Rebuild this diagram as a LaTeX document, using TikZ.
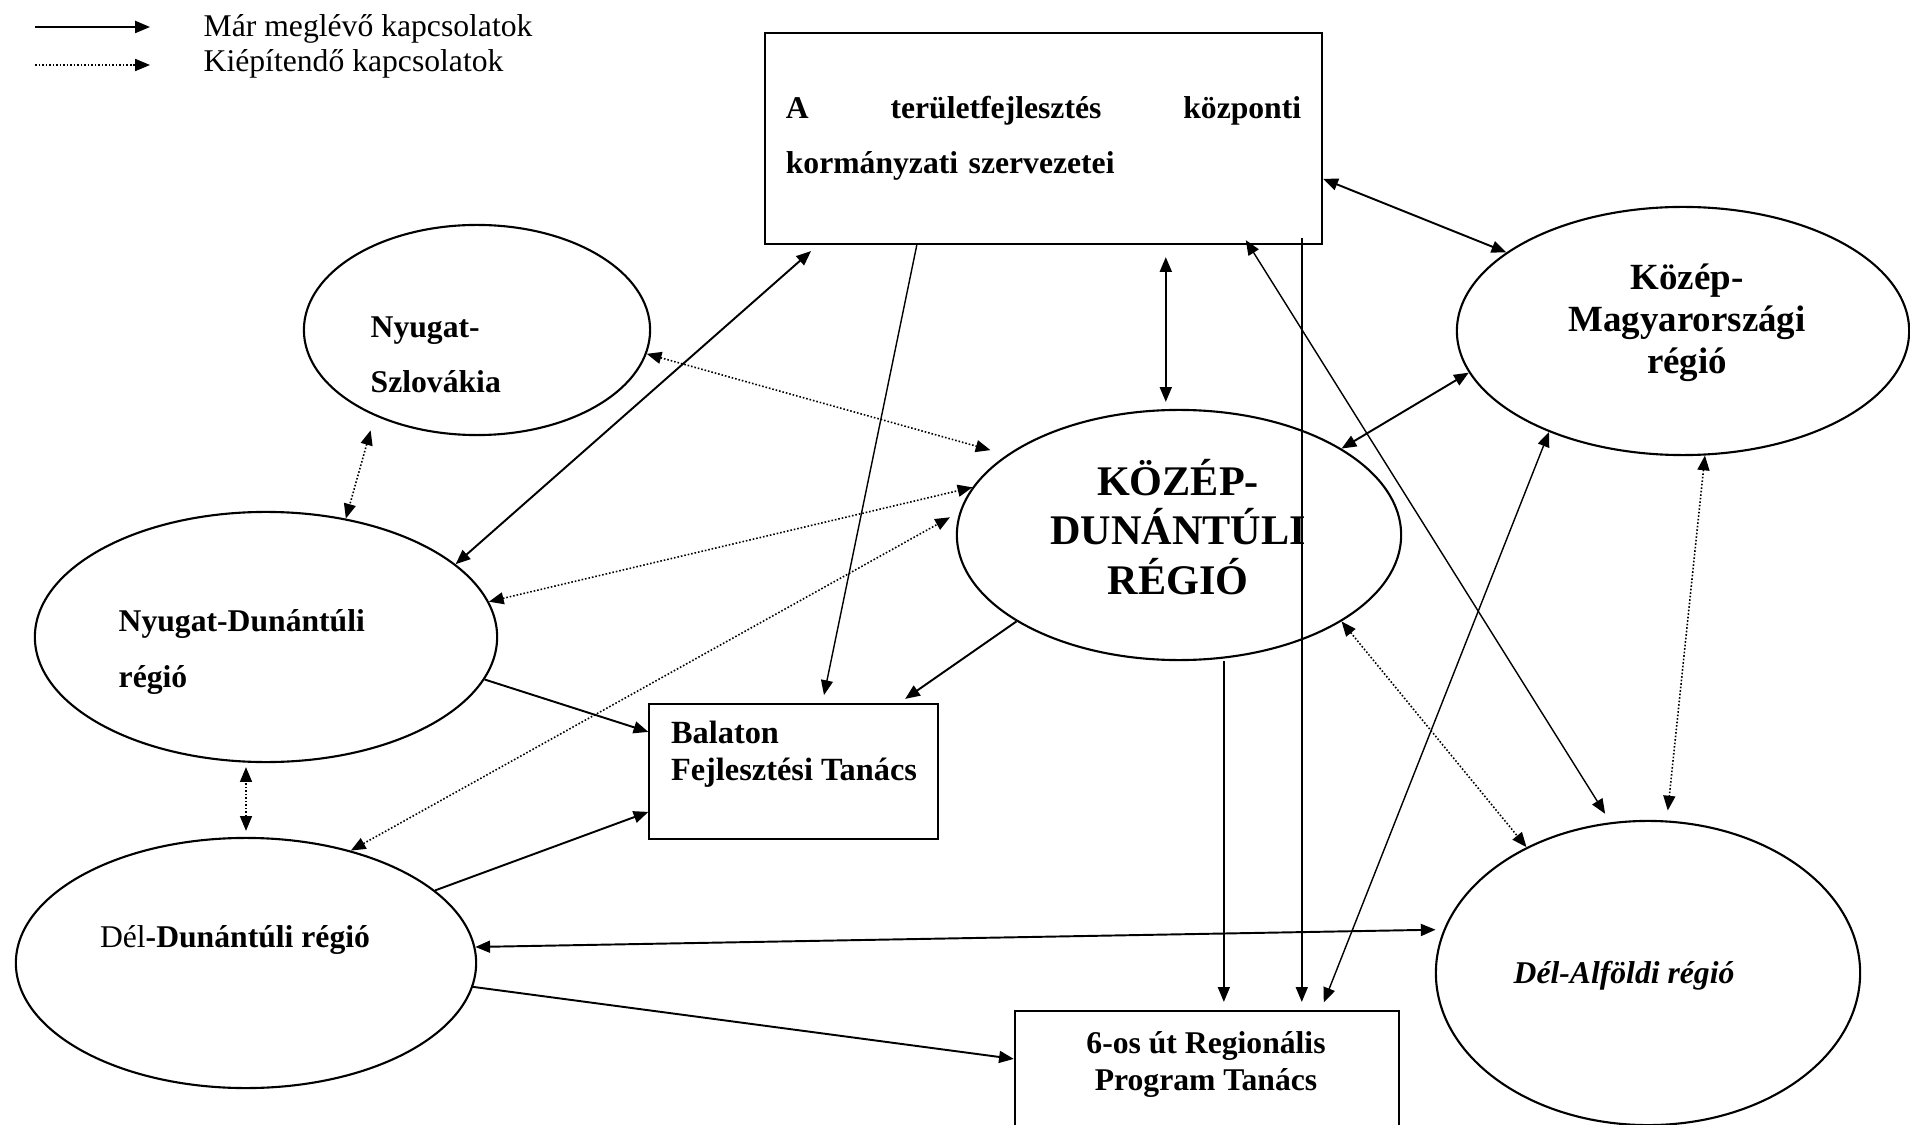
\documentclass[tikz,border=0pt]{standalone}
\usepackage{fontspec}
\setmainfont{Liberation Serif}
\usetikzlibrary{calc,shapes.geometric,arrows.meta}

\begin{document}
\begin{tikzpicture}[x=0.01cm, y=-0.01cm,
    region/.style={ellipse, draw, line width=0.6pt, inner sep=0pt},
    office/.style={rectangle, draw, line width=0.6pt, inner sep=0pt},
    txt/.style={inner sep=0pt, align=left, font=\fontsize{9}{15.6}\selectfont\bfseries},
    link/.style={line width=0.55pt},
    thinlink/.style={line width=0.4pt},
    plan/.style={line width=0.45pt, dash pattern=on 0.45pt off 0.55pt},
    >={Triangle[length=4.2pt,width=3.4pt]}]
  \useasboundingbox (0,0) rectangle (1910,1125);

  \coordinate (la1) at (35,27);
  \coordinate (la2) at (150,27);
  \coordinate (lb1) at (35,65);
  \coordinate (lb2) at (150,65);
  \node[anchor=base west, inner sep=0pt, font=\fontsize{9}{11}\selectfont] (lg1) at (203,37) {Már meglévő kapcsolatok};
  \node[anchor=base west, inner sep=0pt, font=\fontsize{9}{11}\selectfont] (lg2) at (203,72) {Kiépítendő kapcsolatok};
  \draw[link,->] (la1) -- (la2);
  \draw[plan,->] (lb1) -- (lb2);

  \node[office, minimum width=5.57cm, minimum height=2.11cm, text width=5.15cm, align=left,
        font=\fontsize{9}{15.6}\selectfont\bfseries] (kozpont) at (1043.5,138.5)
        {\noindent\makebox[5.15cm]{A\hfill területfejlesztés\hfill központi}\\kormányzati szervezetei};
  \node[region, minimum width=3.46cm, minimum height=2.1cm] (nsz) at (477,330) {};
  \node[region, minimum width=4.62cm, minimum height=2.5cm] (ndu) at (266,637) {};
  \node[region, minimum width=4.6cm, minimum height=2.5cm] (ddu) at (246,963) {};
  \node[region, minimum width=4.44cm, minimum height=2.5cm] (kdr) at (1179,535) {};
  \node[region, minimum width=4.52cm, minimum height=2.48cm] (kmr) at (1683,331) {};
  \node[region, minimum width=4.24cm, minimum height=3.04cm] (dar) at (1648,973) {};
  \node[office, minimum width=2.88cm, minimum height=1.35cm] (bft) at (793.5,771.5) {};
  \node[office, minimum width=3.84cm, minimum height=1.4cm] (rpt) at (1207,1081) {};

  \node[txt, anchor=west] (nszt) at ($(nsz.center)+(-107,25)$) {Nyugat-\\Szlovákia};
  \node[txt, anchor=west, font=\fontsize{9}{16.2}\selectfont\bfseries] (ndut) at ($(ndu.center)+(-148,15)$) {Nyugat-Dunántúli\\régió};
  \node[anchor=base, inner sep=0pt, font=\fontsize{9}{11}\selectfont] (ddut) at ($(ddu.center)+(-11,-16)$) {Dél\textbf{-Dunántúli régió}};
  \node[txt, anchor=west, font=\fontsize{9.2}{10.5}\selectfont\bfseries] (bftt) at ($(bft.west)+(22,-17)$) {Balaton\\Fejlesztési Tanács};
  \node[txt, align=center, font=\fontsize{9}{10.5}\selectfont\bfseries] (rptt) at ($(rpt.north)+(-1,55)$) {6-os út Regionális\\Program Tanács};
  \node[txt, align=center, font=\fontsize{12}{14}\selectfont\bfseries] (kdrt) at ($(kdr.center)+(-1,-8)$) {KÖZÉP-\\DUNÁNTÚLI\\RÉGIÓ};
  \node[txt, align=center, font=\fontsize{10.5}{12}\selectfont\bfseries] (kmrt) at ($(kmr.center)+(4,-8)$) {Közép-\\Magyarországi\\régió};
  \node[anchor=base, inner sep=0pt, font=\fontsize{9}{11}\selectfont\bfseries\itshape] (dart) at ($(dar.center)+(-24,10)$) {Dél-Alföldi régió};

  \coordinate (v1) at ($(kozpont.south west)+(402,0)$);
  \coordinate (v2) at ($(kozpont.south west)+(538,-7)$);
  \coordinate (v3) at ($(rpt.north west)+(210,0)$);

  \draw[thinlink,->,shorten >=0.08cm] ($(kozpont.south west)+(153,0)$) -- ($(bft.north west)+(174,0)$);
  \draw[link,<->,shorten <=0.09cm] ($(kozpont.south west)+(54,0)$) -- (ndu.21);
  \draw[link,<->,shorten <=0.12cm,shorten >=0.07cm] (v1) -- (v1 |- kdr.north);
  \draw[link,<->] ($(kozpont.north east)+(0,147)$) -- (kmr.156);
  \draw[thinlink,<->,shorten >=0.1cm] ($(kozpont.south west)+(482,-5)$) -- (dar.104);
  \draw[thinlink,->,shorten >=0.08cm] (v2) -- (v2 |- rpt.north);
  \draw[thinlink,->,shorten >=0.08cm] (v3 |- kdr.south) -- (v3);
  \draw[thinlink,<->,shorten >=0.08cm] (kmr.217) -- ($(rpt.north west)+(307,0)$);
  \draw[link,<->] (kdr.28) -- (kmr.191);
  \draw[link,->,shorten >=0.07cm] (kdr.208) -- ($(bft.north west)+(251,0)$);
  \draw[link,->] (ndu.-11) -- ($(bft.north west)+(0,29)$);
  \draw[link,->] (ddu.21) -- ($(bft.north west)+(0,109)$);
  \draw[link,<->,shorten >=0.08cm] (ddu.4) -- (dar.168);
  \draw[link,->] (ddu.-6) -- ($(rpt.north west)+(0,49)$);

  \draw[plan,<->,shorten >=0.17cm] (nsz.-8) -- (kdr.155);
  \draw[plan,<->,shorten <=0.15cm] (nsz.220) -- (ndu.56);
  \draw[plan,<->] (ndu.9) -- (kdr.167);
  \draw[plan,<->,shorten >=0.11cm] (ddu.47.5) -- (kdr.174);
  \draw[plan,<->,shorten <=0.06cm,shorten >=0.04cm] (ddu.north) -- (ddu.north |- ndu.south);
  \draw[plan,<->] (kdr.-28) -- (dar.134);
  \draw[plan,<->,shorten >=0.1cm] (kmr.-80) -- (dar.83);
\end{tikzpicture}
\end{document}
